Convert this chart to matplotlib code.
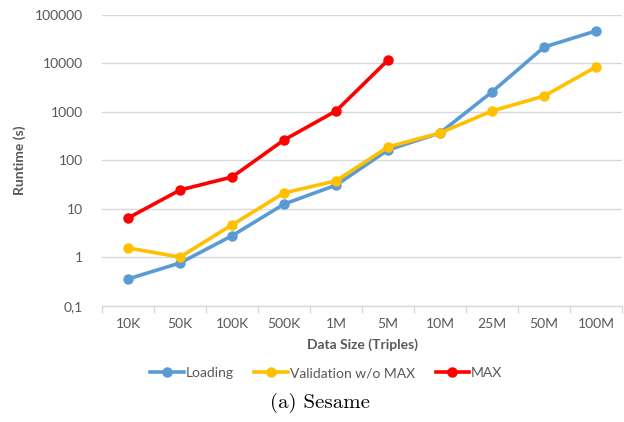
import numpy as np
import matplotlib
matplotlib.use("Agg")
import matplotlib.pyplot as plt

# data
sizes = ["10K", "50K", "100K", "500K", "1M", "5M", "10M", "25M", "50M", "100M"]
loading = [0.36, 0.77, 2.8, 12.6, 31, 165, 370, 2600, 21800, 47000]
validation = [1.57, 1.02, 4.7, 21.4, 38, 190, 370, 1050, 2130, 8500]
max_rt = [6.5, 24.6, 45.6, 265, 1050, 11800]

ytick_vals = [0.1, 1, 10, 100, 1000, 10000, 100000]
ytick_labels = ["0,1", "1", "10", "100", "1000", "10000", "100000"]

plt.rcParams["font.family"] = ["Lato", "DejaVu Sans"]
text_col = "#595959"
grid_col = "#d9d9d9"

fig = plt.figure(figsize=(6.24, 4.22), dpi=100)
ax = fig.add_axes([0.1635, 0.275, 0.8335, 0.6895])

x = np.arange(len(sizes))
ax.plot(x, loading, color="#5B9BD5", lw=2.6, marker="o", ms=6.5, label="Loading")
ax.plot(x, validation, color="#FFC000", lw=2.6, marker="o", ms=6.5, label="Validation w/o MAX")
ax.plot(x[:len(max_rt)], max_rt, color="#FF0000", lw=2.6, marker="o", ms=6.5, label="MAX")

ax.set_yscale("log")
ax.set_ylim(0.1, 100000)
ax.set_yticks(ytick_vals)
ax.set_yticklabels(ytick_labels)
ax.yaxis.set_minor_locator(matplotlib.ticker.NullLocator())
ax.set_xlim(-0.5, len(sizes) - 0.5)
ax.set_xticks(x)
ax.set_xticklabels(sizes)
ax.set_xticks(np.arange(-0.5, len(sizes)), minor=True)

ax.grid(axis="y", color=grid_col, lw=1.0)
ax.set_axisbelow(True)
for s in ["top", "right", "left"]:
    ax.spines[s].set_visible(False)
ax.spines["bottom"].set_color(grid_col)
ax.spines["bottom"].set_linewidth(1.0)

ax.tick_params(axis="y", length=0, pad=14, labelsize=10, labelcolor=text_col)
ax.tick_params(axis="x", which="major", length=0, pad=9, labelsize=10, labelcolor=text_col)
ax.tick_params(axis="x", which="minor", length=5, width=1.0, color=grid_col)

ax.set_ylabel("Runtime (s)", fontsize=10, fontweight="bold", color=text_col, labelpad=6)
ax.set_xlabel("Data Size (Triples)", fontsize=10, fontweight="bold", color=text_col, labelpad=6)

leg = fig.legend(loc="center", bbox_to_anchor=(0.523, 0.116), ncol=3, frameon=False,
                 fontsize=10, handlelength=2.4, handletextpad=0.15, columnspacing=1.5,
                 labelcolor=text_col)

fig.text(0.513, 0.045, "(a) Sesame", ha="center", va="center", fontsize=15, family="cmr10")

fig.savefig("out.png", dpi=100)
